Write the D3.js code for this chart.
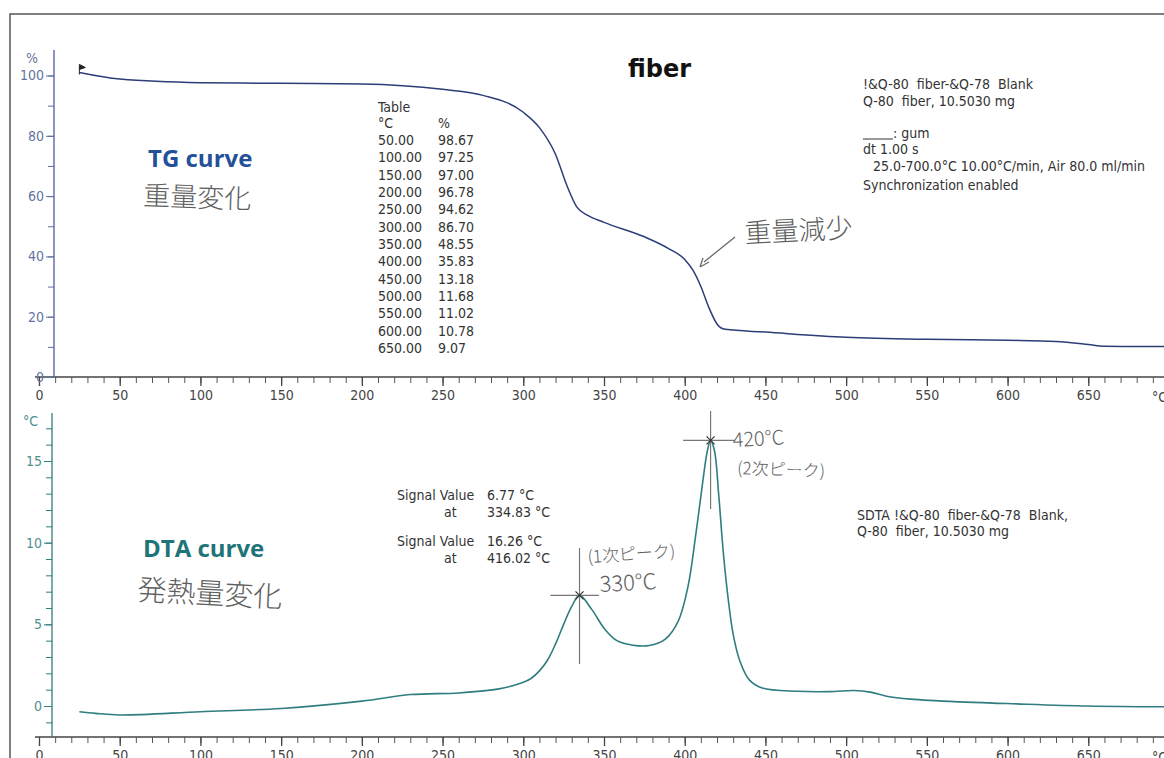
<!DOCTYPE html>
<html>
<head>
<meta charset="utf-8">
<script src="https://cdn.jsdelivr.net/npm/d3@7"></script>
<style>
  body { margin: 0; background: #fff; }
  svg { display: block; }
  text { white-space: pre; }
  .mono { font-family: "DejaVu Sans Condensed", "DejaVu Sans", sans-serif; font-size: 14px; fill: #333; }
  .hand { font-family: "Noto Sans CJK JP", sans-serif; font-weight: 300; fill: #5e5e5e; }
</style>
</head>
<body>
<div id="chart"></div>
<script>
// frame size
const FRAME_WIDTH = 1164;
const FRAME_HEIGHT = 758;

// TG curve (temperature °C, mass %)
const tgTemp = [25, 50, 100, 150, 200, 250, 275, 300, 310, 320, 327, 333, 340, 350, 375, 390, 400, 405, 410, 415, 420, 425, 450, 500, 550, 600, 630, 650, 660, 700];
const tgMass = [101, 98.8, 97.6, 97.4, 97.2, 95.4, 93.4, 87.8, 82.7, 73.8, 63.5, 56.5, 53.6, 51.3, 46.5, 42.6, 39.0, 35.5, 30.0, 23.0, 17.6, 15.8, 14.9, 13.2, 12.5, 12.2, 11.8, 10.8, 10.2, 10.1];

// DTA curve (temperature °C, signal °C)
const dtaTemp = [25, 35, 50, 100, 150, 200, 230, 260, 285, 300, 305, 310, 315, 320, 325, 330, 334.83, 342.5, 350.5, 358, 368, 378, 388, 396, 402, 407, 411, 414, 416.02, 418.5, 421, 424, 427, 430, 434, 440, 448, 470, 490, 505, 515, 525, 540, 570, 600, 650, 700];
const dtaSignal = [-0.35, -0.45, -0.55, -0.35, -0.15, 0.3, 0.7, 0.8, 1.05, 1.45, 1.7, 2.15, 2.8, 3.8, 5.0, 6.1, 6.77, 5.9, 4.7, 4.0, 3.72, 3.7, 4.1, 5.2, 7.3, 10.6, 13.6, 15.6, 16.26, 15.6, 13.0, 9.3, 6.5, 4.4, 2.8, 1.6, 1.1, 0.9, 0.88, 0.95, 0.85, 0.6, 0.42, 0.25, 0.15, 0.0, -0.05];

// tick values
const xMajor = d3.range(0, 651, 50);
const xMinor = d3.range(0, 701, 10);
const tgMajor = [0, 20, 40, 60, 80, 100];
const tgMinor = d3.range(0, 101, 10);
const dtaMajor = [0, 5, 10, 15];
const dtaMinor = d3.range(-1, 18, 1);

// table printed on the TG panel
const tableTemp = ["50.00", "100.00", "150.00", "200.00", "250.00", "300.00", "350.00", "400.00", "450.00", "500.00", "550.00", "600.00", "650.00"];
const tablePct = ["98.67", "97.25", "97.00", "96.78", "94.62", "86.70", "48.55", "35.83", "13.18", "11.68", "11.02", "10.78", "9.07"];

// peaks found on the DTA curve
const peakTemp = [334.83, 416.02];
const peakValue = [6.77, 16.26];

const TG_COLOR = "#2c3d78";
const DTA_COLOR = "#2f7d80";
const AXIS_FONT = "DejaVu Sans Condensed, DejaVu Sans, sans-serif";

const svg = d3.select("#chart").append("svg")
    .attr("width", FRAME_WIDTH)
    .attr("height", FRAME_HEIGHT);

// scales
const X_SCALE = d3.scaleLinear().domain([0, 700]).range([39, 1169]);
const Y_TG = d3.scaleLinear().domain([0, 100]).range([377, 75.5]);
const Y_DTA = d3.scaleLinear().domain([0, 15]).range([706, 461]);

// paper border
svg.append("path")
    .attr("d", "M10,758 L10,14 L1164,14")
    .attr("fill", "none")
    .attr("stroke", "#555")
    .attr("stroke-width", 1.5);

// ---------- x axes ----------
function drawXAxis(yPos) {
    const g = svg.append("g").attr("transform", "translate(0," + yPos + ")");
    g.append("line")
        .attr("x1", X_SCALE(-2.5)).attr("x2", FRAME_WIDTH)
        .attr("stroke", "#444").attr("stroke-width", 1.5);
    g.append("g")
        .call(d3.axisBottom(X_SCALE).tickValues(xMinor).tickSize(6).tickFormat(""))
        .call(s => s.select(".domain").remove())
        .selectAll("line").attr("stroke", "#555");
    g.append("g")
        .call(d3.axisBottom(X_SCALE).tickValues(xMajor).tickSize(9).tickPadding(4))
        .call(s => s.select(".domain").remove())
        .call(s => s.selectAll("line").attr("stroke", "#444").attr("stroke-width", 1.3))
        .call(s => s.selectAll("text")
            .attr("font-family", AXIS_FONT)
            .attr("font-size", 14).attr("fill", "#444"));
    g.append("text")
        .attr("x", 1152).attr("y", 25)
        .attr("class", "mono").style("fill", "#444")
        .text("°C");
}
drawXAxis(377);
drawXAxis(737);

// ---------- TG y axis ----------
const tgAxis = svg.append("g").attr("transform", "translate(54,0)");
tgAxis.append("line")
    .attr("y1", 50).attr("y2", 377)
    .attr("stroke", "#4d5f9c").attr("stroke-width", 1.3);
tgAxis.append("g")
    .call(d3.axisLeft(Y_TG).tickValues(tgMinor).tickSize(6).tickFormat(""))
    .call(s => s.select(".domain").remove())
    .selectAll("line").attr("stroke", "#5d6ea0");
tgAxis.append("g")
    .call(d3.axisLeft(Y_TG).tickValues(tgMajor).tickSize(8).tickPadding(2))
    .call(s => s.select(".domain").remove())
    .call(s => s.selectAll("line").attr("stroke", "#5d6ea0"))
    .call(s => s.selectAll("text")
        .attr("font-family", AXIS_FONT)
        .attr("font-size", 14).attr("fill", "#6474a0"));
svg.append("text").attr("x", 26).attr("y", 63)
    .attr("class", "mono").style("fill", "#6474a0").text("%");

// ---------- DTA y axis ----------
const dtaAxis = svg.append("g").attr("transform", "translate(52,0)");
dtaAxis.append("line")
    .attr("y1", 413).attr("y2", 737)
    .attr("stroke", DTA_COLOR).attr("stroke-width", 1.3);
dtaAxis.append("g")
    .call(d3.axisLeft(Y_DTA).tickValues(dtaMinor).tickSize(6).tickFormat(""))
    .call(s => s.select(".domain").remove())
    .selectAll("line").attr("stroke", DTA_COLOR);
dtaAxis.append("g")
    .call(d3.axisLeft(Y_DTA).tickValues(dtaMajor).tickSize(8).tickPadding(2))
    .call(s => s.select(".domain").remove())
    .call(s => s.selectAll("line").attr("stroke", DTA_COLOR))
    .call(s => s.selectAll("text")
        .attr("font-family", AXIS_FONT)
        .attr("font-size", 14).attr("fill", "#4f8f90"));
svg.append("text").attr("x", 23).attr("y", 426)
    .attr("class", "mono").style("fill", "#4f8f90").text("°C");

// ---------- curves ----------
const tgLine = d3.line()
    .x((d, i) => X_SCALE(tgTemp[i]))
    .y(d => Y_TG(d))
    .curve(d3.curveMonotoneX);
svg.append("path")
    .attr("d", tgLine(tgMass))
    .attr("fill", "none")
    .attr("stroke", TG_COLOR)
    .attr("stroke-width", 1.5);

// start flag of the TG curve
const fx = X_SCALE(tgTemp[0]), fy = Y_TG(tgMass[0]);
svg.append("path")
    .attr("d", `M${fx},${fy + 2} L${fx},${fy - 8} L${fx + 6},${fy - 5} L${fx},${fy - 3}`)
    .attr("fill", "#222").attr("stroke", "#222").attr("stroke-width", 1);

const dtaLine = d3.line()
    .x((d, i) => X_SCALE(dtaTemp[i]))
    .y(d => Y_DTA(d))
    .curve(d3.curveCatmullRom.alpha(0.5));
svg.append("path")
    .attr("d", dtaLine(dtaSignal))
    .attr("fill", "none")
    .attr("stroke", DTA_COLOR)
    .attr("stroke-width", 1.6);

// peak crosshairs
const crossH = [[-18, 12], [-17, 15]];
const crossV = [[2.9, -4.2], [1.8, -4.2]];
peakTemp.forEach((t, i) => {
    const cx = X_SCALE(t), cy = Y_DTA(peakValue[i]);
    const g = svg.append("g").attr("stroke", "#777").attr("stroke-width", 1.2);
    g.append("line").attr("x1", X_SCALE(t + crossH[i][0])).attr("x2", X_SCALE(t + crossH[i][1]))
        .attr("y1", cy).attr("y2", cy);
    g.append("line").attr("x1", cx).attr("x2", cx)
        .attr("y1", Y_DTA(peakValue[i] + crossV[i][0])).attr("y2", Y_DTA(peakValue[i] + crossV[i][1]));
    g.append("path").attr("d", `M${cx - 4},${cy - 4}L${cx + 4},${cy + 4}M${cx - 4},${cy + 4}L${cx + 4},${cy - 4}`)
        .attr("stroke", "#333");
});

// ---------- texts ----------
svg.append("text").attr("x", 628).attr("y", 77)
    .attr("font-family", "DejaVu Sans, sans-serif").attr("font-weight", "bold")
    .attr("font-size", 24).attr("fill", "#111").text("fiber");

svg.append("text").attr("x", 148).attr("y", 167)
    .attr("font-family", "Open Sans, sans-serif").attr("font-weight", "bold")
    .attr("font-size", 24).attr("fill", "#24509a").text("TG curve");
svg.append("text").attr("x", 143).attr("y", 557)
    .attr("font-family", "Open Sans, sans-serif").attr("font-weight", "bold")
    .attr("font-size", 24).attr("fill", "#1f7479").text("DTA curve");

// info block, top right
const infoLines = [
    ["!&Q-80  fiber-&Q-78  Blank", 863, 89],
    ["Q-80  fiber, 10.5030 mg", 863, 106],
    [": gum", 893, 138],
    ["dt 1.00 s", 863, 154],
    ["25.0-700.0°C 10.00°C/min, Air 80.0 ml/min", 873, 171],
    ["Synchronization enabled", 863, 190]
];
svg.selectAll(".info").data(infoLines).enter().append("text")
    .attr("class", "mono")
    .attr("x", d => d[1]).attr("y", d => d[2])
    .text(d => d[0]);
svg.append("line").attr("x1", 863).attr("x2", 893).attr("y1", 139).attr("y2", 139)
    .attr("stroke", "#333").attr("stroke-width", 1);

// table
svg.append("text").attr("class", "mono").attr("x", 378).attr("y", 112).text("Table");
svg.append("text").attr("class", "mono").attr("x", 378).attr("y", 128).text("°C");
svg.append("text").attr("class", "mono").attr("x", 438).attr("y", 128).text("%");
tableTemp.forEach((t, i) => {
    svg.append("text").attr("class", "mono").attr("x", 378).attr("y", 145 + i * 17.33).text(t);
    svg.append("text").attr("class", "mono").attr("x", 438).attr("y", 145 + i * 17.33).text(tablePct[i]);
});

// signal value blocks
peakTemp.forEach((t, i) => {
    const y0 = 500 + i * 46;
    svg.append("text").attr("class", "mono").attr("x", 397).attr("y", y0).text("Signal Value");
    svg.append("text").attr("class", "mono").attr("x", 487).attr("y", y0).text(peakValue[i].toFixed(2) + " °C");
    svg.append("text").attr("class", "mono").attr("x", 444).attr("y", y0 + 17).text("at");
    svg.append("text").attr("class", "mono").attr("x", 487).attr("y", y0 + 17).text(t.toFixed(2) + " °C");
});

svg.append("text").attr("class", "mono").attr("x", 857).attr("y", 520).text("SDTA !&Q-80  fiber-&Q-78  Blank,");
svg.append("text").attr("class", "mono").attr("x", 857).attr("y", 536).text("Q-80  fiber, 10.5030 mg");

// handwritten notes
function hand(txt, x, y, size, rot) {
    svg.append("text").attr("class", "hand")
        .attr("transform", `translate(${x},${y}) rotate(${rot || 0})`)
        .attr("font-size", size).text(txt);
}
hand("重量変化", 143, 205, 27, 2);
hand("発熱量変化", 137, 600, 29, 3);
hand("重量減少", 745, 243, 27, -3);
hand("(1次ピーク)", 588, 563, 17, -4);
hand("330°C", 600, 592, 22, -3);
hand("420°C", 733, 447, 20, -3);
hand("(2次ピーク)", 737, 474, 17, 2);

// arrow to the TG step
svg.append("path")
    .attr("d", "M735,237 L704,262 M700,267 L703,258 M700,267 L709,262")
    .attr("fill", "none").attr("stroke", "#6a6a6a").attr("stroke-width", 1.3);
</script>
</body>
</html>
